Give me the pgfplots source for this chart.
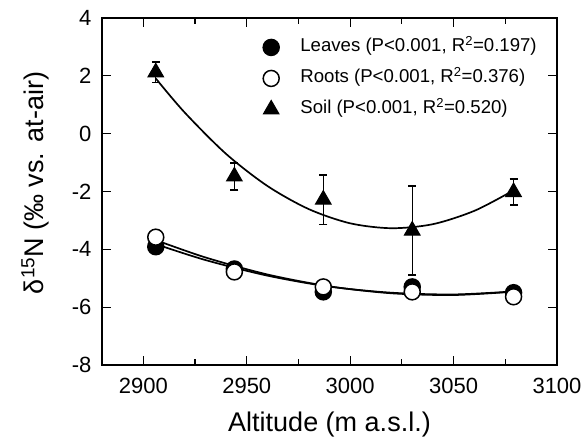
\documentclass[border=0pt]{standalone}
\usepackage{fontspec}
\setmainfont{Liberation Sans}
\usepackage{pgfplots}
\pgfplotsset{compat=1.18}
\usetikzlibrary{calc}
\begin{document}
\begin{tikzpicture}
\begin{axis}[
 scale only axis, width=455pt, height=347pt,
 xmin=2880, xmax=3100, ymin=-8, ymax=4,
 xtick={2900,2950,3000,3050,3100}, ytick={-8,-6,-4,-2,0,2,4},
 minor x tick num=1,
 tick align=inside,
 major tick length=9pt, minor tick length=6pt,
 every tick/.style={line width=1.2pt, black},
 axis line style={line width=1.6pt},
 /pgf/number format/assume math mode=true,
 /pgf/number format/set thousands separator={},
 tick label style={font=\fontsize{22}{26}\selectfont},
 xticklabel shift=10pt, yticklabel shift=7pt,
 xlabel={Altitude (m a.s.l.)},
 ylabel={δ\textsuperscript{15}N (‰ vs. at-air)},
 label style={font=\fontsize{27}{32}\selectfont},
 xlabel style={at={(axis description cs:0.5,-0.1922)}, anchor=base},
 ylabel style={at={(axis description cs:-0.129,0.5245)}, anchor=base},
 legend style={draw=none, fill=none, at={(rel axis cs:0.349,0.946)}, anchor=north west,
   inner sep=0pt, font=\fontsize{18.6}{22}\selectfont, row sep=10pt,
   cells={anchor=west}, nodes={inner sep=2pt, text height=13pt, text depth=4pt}},
 legend image code/.code={\path (-10pt,0pt) (27pt,0pt);
   \draw[mark repeat=2,mark phase=2,#1] plot coordinates {(-10pt,0pt)(0pt,0pt)(10pt,0pt)};},
]
% fit curves
\addplot[black, line width=1.7pt, smooth, forget plot] coordinates {
 (2906,-3.82) (2930,-4.37) (2960,-4.91) (2990,-5.29) (3020,-5.50) (3050,-5.56) (3078,-5.46)};
\addplot[black, line width=1.7pt, smooth, forget plot] coordinates {
 (2906,-3.68) (2930,-4.28) (2960,-4.87) (2990,-5.28) (3020,-5.52) (3050,-5.58) (3078,-5.47)};
\addplot[black, line width=1.7pt, smooth, forget plot] coordinates {
 (2906,1.91) (2920,0.73) (2940,-0.70) (2960,-1.81) (2980,-2.61) (3000,-3.10) (3020,-3.27) (3040,-3.13) (3060,-2.67) (3078,-2.00)};
% data
\addplot[only marks, mark=*, mark size=8pt, mark options={fill=black, draw=black, line width=1.5pt}] coordinates {
 (2906,-3.91) (2944,-4.68) (2987,-5.47) (3030,-5.30) (3079,-5.50)};
\addlegendentry{Leaves (P<0.001, R\textsuperscript{2}=0.197)}
\addplot[only marks, mark=*, mark size=8pt, mark options={fill=white, draw=black, line width=1.5pt}] coordinates {
 (2906,-3.58) (2944,-4.78) (2987,-5.30) (3030,-5.47) (3079,-5.64)};
\addlegendentry{Roots (P<0.001, R\textsuperscript{2}=0.376)}
\addplot[only marks, mark=triangle*, mark size=9pt, mark options={fill=black, draw=black, line width=1pt},
  error bars/.cd, y dir=both, y explicit,
  error bar style={line width=1.3pt, black},
  error mark options={rotate=90, mark size=4pt, line width=1.3pt, black}]
 coordinates {
 (2906,2.12) +- (0,0.36)
 (2944,-1.48) +- (0,0.47)
 (2987,-2.28) +- (0,0.85)
 (3030,-3.35) +- (0,1.54)
 (3079,-2.02) +- (0,0.45)};
\addlegendentry{Soil (P<0.001, R\textsuperscript{2}=0.520)}
\coordinate (ll) at (rel axis cs:0,0);
\coordinate (ur) at (rel axis cs:1,1);
\end{axis}
\pgfresetboundingbox
\path ($(ll)+(-102pt,-74pt)$) rectangle ($(ur)+(26pt,18pt)$);
\end{tikzpicture}
\end{document}
